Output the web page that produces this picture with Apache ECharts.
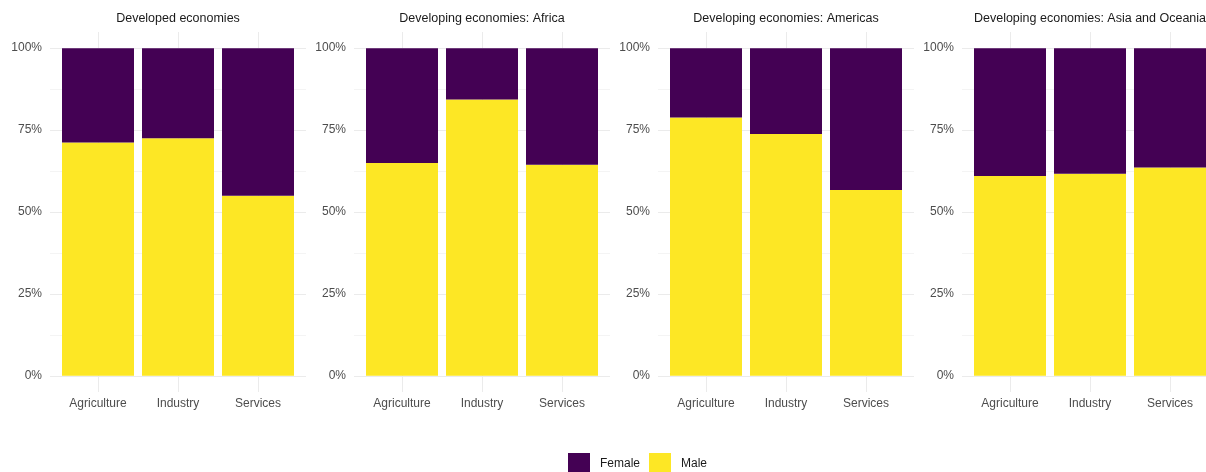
<!DOCTYPE html>
<html>
<head>
<meta charset="utf-8">
<script src="https://cdn.jsdelivr.net/npm/echarts@6/dist/echarts.min.js"></script>
<style>
html,body{margin:0;padding:0;background:#fff;}
#main{width:1206px;height:472px;}
</style>
</head>
<body>
<div id="main"></div>
<script>
var panels = ['Developed economies', 'Developing economies: Africa', 'Developing economies: Americas', 'Developing economies: Asia and Oceania'];
var sectors = ['Agriculture', 'Industry', 'Services'];
// share of employment
var male = [
    [0.712, 0.725, 0.550],
    [0.650, 0.844, 0.644],
    [0.789, 0.738, 0.567],
    [0.610, 0.617, 0.636]
];
var female = [
    [0.288, 0.275, 0.450],
    [0.350, 0.156, 0.356],
    [0.211, 0.262, 0.433],
    [0.390, 0.383, 0.364]
];
var yTicks = [0, 0.25, 0.5, 0.75, 1];

var chart = echarts.init(document.getElementById('main'));
var FONT = '"Liberation Sans", Arial, sans-serif';
var panelLeft = [50, 354, 658, 962];

var grid = [], xAxis = [], yAxis = [], series = [], graphic = [];
for (var p = 0; p < panels.length; p++) {
    var L = panelLeft[p];
    // background grid: horizontal grid lines + y labels
    grid.push({left: L, width: 256, top: 48, height: 328});
    xAxis.push({gridIndex: 2 * p, type: 'value', show: false, min: 0, max: 1});
    yAxis.push({
        gridIndex: 2 * p, type: 'value', min: yTicks[0], max: yTicks[yTicks.length - 1], interval: 0.25,
        axisLine: {show: false}, axisTick: {show: false},
        axisLabel: {
            color: '#4d4d4d', fontSize: 12, fontFamily: FONT, margin: 8,
            formatter: function (v) { return Math.round(v * 100) + '%'; }
        },
        splitLine: {show: true, lineStyle: {color: '#ebebeb', width: 1}},
        minorTick: {show: false, splitNumber: 2},
        minorSplitLine: {show: true, lineStyle: {color: '#f4f4f4', width: 1}}
    });
    // data grid: bars, category labels, vertical grid lines
    grid.push({left: L + 48, width: 160, top: 32, height: 360});
    xAxis.push({
        gridIndex: 2 * p + 1, type: 'category', data: sectors, boundaryGap: false,
        axisLine: {show: false}, axisTick: {show: false},
        axisLabel: {color: '#4d4d4d', fontSize: 12, fontFamily: FONT, margin: 6, interval: 0},
        splitLine: {show: true, interval: 0, lineStyle: {color: '#ebebeb', width: 1}}
    });
    yAxis.push({gridIndex: 2 * p + 1, type: 'value', min: -0.05, max: 1.05, show: false, splitLine: {show: false}});

    series.push({
        name: 'Male', type: 'bar', stack: 'p' + p, xAxisIndex: 2 * p + 1, yAxisIndex: 2 * p + 1,
        barWidth: 72, clip: false, itemStyle: {color: '#FDE725'}, data: male[p]
    });
    series.push({
        name: 'Female', type: 'bar', stack: 'p' + p, xAxisIndex: 2 * p + 1, yAxisIndex: 2 * p + 1,
        barWidth: 72, clip: false, itemStyle: {color: '#440154'}, data: female[p]
    });

    graphic.push({
        type: 'text', x: L + 128, y: 19,
        style: {
            text: panels[p], fill: '#1a1a1a', fontSize: 12.5, fontFamily: FONT,
            textAlign: 'center', textVerticalAlign: 'middle', align: 'center', verticalAlign: 'middle'
        }
    });
}

option = {
    backgroundColor: '#fff',
    animation: false,
    grid: grid,
    xAxis: xAxis,
    yAxis: yAxis,
    series: series,
    graphic: graphic,
    legend: {
        data: ['Female', 'Male'],
        left: 568, top: 453, padding: 0,
        itemWidth: 22, itemHeight: 22, itemGap: 9,
        icon: 'rect',
        textStyle: {color: '#1a1a1a', fontSize: 12, fontFamily: FONT, padding: [0, 0, 0, 5]}
    }
};
chart.setOption(option);
</script>
</body>
</html>
